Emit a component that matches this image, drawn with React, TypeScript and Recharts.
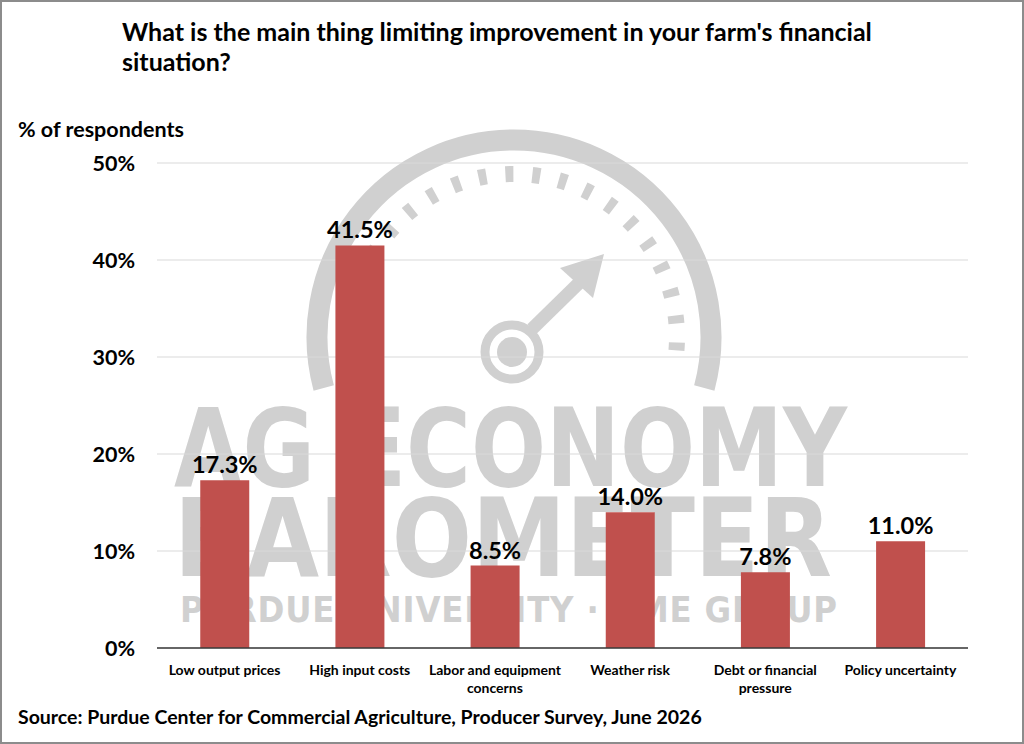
import React from 'react';
import { BarChart, Bar, XAxis, YAxis, CartesianGrid, LabelList } from 'recharts';

const categories = [
  'Low output prices',
  'High input costs',
  'Labor and equipment concerns',
  'Weather risk',
  'Debt or financial pressure',
  'Policy uncertainty',
];
const shares = [17.3, 41.5, 8.5, 14.0, 7.8, 11.0];
const yTicks = [0, 10, 20, 30, 40, 50];

const FONT = 'Lato, "Open Sans", sans-serif';
const BAR_COLOR = '#C0504D';
const MARK_GRAY = '#d0d0d0';

// split a label into lines of at most maxChars
const wrapLabel = (label: string, maxChars: number) => {
  const lines: string[] = [];
  let cur = '';
  label.split(' ').forEach((w) => {
    const next = cur ? cur + ' ' + w : w;
    if (next.length > maxChars && cur) {
      lines.push(cur);
      cur = w;
    } else {
      cur = next;
    }
  });
  if (cur) lines.push(cur);
  return lines;
};

const CategoryTick = (props: any) => {
  const { x, y, payload } = props;
  const lines = wrapLabel(payload.value, 19);
  return (
    <text x={x} y={y} textAnchor="middle" fontFamily={FONT} fontSize={14} fontWeight={700} fill="#000">
      {lines.map((l, i) => (
        <tspan key={i} x={x} dy={i === 0 ? 25 : 18}>
          {l}
        </tspan>
      ))}
    </text>
  );
};

// background logo watermark
const Watermark: React.FC = () => {
  const cx = 512;
  const cy = 335;
  const arcPath = (r: number, a0: number, a1: number) => {
    const p = (a: number) => {
      const rad = (a * Math.PI) / 180;
      return `${cx + r * Math.cos(rad)} ${cy - r * Math.sin(rad)}`;
    };
    return `M ${p(a0)} A ${r} ${r} 0 1 1 ${p(a1)}`;
  };
  return (
    <svg width={1024} height={744} style={{ position: 'absolute', left: 0, top: 0 }}>
      <path d={arcPath(197, 195, -15)} fill="none" stroke={MARK_GRAY} strokeWidth={21} />
      <path d={arcPath(163, 188, -10)} fill="none" stroke={MARK_GRAY} strokeWidth={16} strokeDasharray="8 19" />
      <circle cx={510} cy={350} r={27} fill="none" stroke={MARK_GRAY} strokeWidth={9} />
      <circle cx={510} cy={350} r={15} fill={MARK_GRAY} />
      <line x1={530} y1={327} x2={578} y2={280} stroke={MARK_GRAY} strokeWidth={13} />
      <polygon points="602,252 591,296 558,266" fill={MARK_GRAY} />
      <g fontFamily='"Liberation Sans Narrow", "DejaVu Sans Condensed", sans-serif' fontWeight={700} fill={MARK_GRAY}>
        <text x={172} y={484} fontSize={108} textLength={673} lengthAdjust="spacingAndGlyphs">AG ECONOMY</text>
        <text x={172} y={574} fontSize={108} textLength={658} lengthAdjust="spacingAndGlyphs">BAROMETER</text>
        <text x={178} y={620} fontSize={36} textLength={657} lengthAdjust="spacing">PURDUE UNIVERSITY · CME GROUP</text>
      </g>
    </svg>
  );
};

export default function App() {
  const data = categories.map((name, i) => ({ name, value: shares[i] }));

  return (
    <div
      style={{
        position: 'absolute',
        left: 0,
        top: 0,
        width: 1024,
        height: 744,
        background: '#fff',
        boxSizing: 'border-box',
        border: '2px solid #8c8c8c',
        fontFamily: FONT,
        overflow: 'hidden',
      }}
    >
      <Watermark />
      <div
        style={{
          position: 'absolute',
          left: 120,
          top: 14,
          width: 800,
          fontSize: 25,
          fontWeight: 700,
          lineHeight: '30px',
          color: '#000',
        }}
      >
        What is the main thing limiting improvement in your farm's financial situation?
      </div>
      <div style={{ position: 'absolute', left: 16, top: 114, fontSize: 21.5, fontWeight: 700, color: '#000' }}>
        % of respondents
      </div>
      <div style={{ position: 'absolute', left: 16, top: 703, fontSize: 19.5, fontWeight: 700, color: '#000' }}>
        Source: Purdue Center for Commercial Agriculture, Producer Survey, June 2026
      </div>
      <div style={{ position: 'absolute', left: -2, top: -2 }}>
        <BarChart
          width={1024}
          height={744}
          data={data}
          margin={{ top: 163, right: 56, bottom: 36, left: 0 }}
          barCategoryGap="32%"
        >
          <CartesianGrid vertical={false} stroke="#d9d9d9" />
          <XAxis
            dataKey="name"
            interval={0}
            height={60}
            tickLine={false}
            tickSize={0}
            tick={<CategoryTick />}
            axisLine={{ stroke: '#3a3a3a', strokeWidth: 1.5 }}
          />
          <YAxis
            domain={[0, 50]}
            ticks={yTicks}
            width={157}
            axisLine={false}
            tickLine={false}
            tickSize={0}
            tickMargin={22}
            tickFormatter={(v: number) => `${v}%`}
            tick={{ fill: '#000', fontSize: 21.5, fontWeight: 700, fontFamily: FONT }}
          />
          <Bar dataKey="value" fill={BAR_COLOR} isAnimationActive={false}>
            <LabelList
              dataKey="value"
              position="top"
              offset={7}
              formatter={(v: number) => `${v.toFixed(1)}%`}
              style={{ fill: '#000', fontSize: 23.5, fontWeight: 700, fontFamily: FONT }}
            />
          </Bar>
        </BarChart>
      </div>
    </div>
  );
}
